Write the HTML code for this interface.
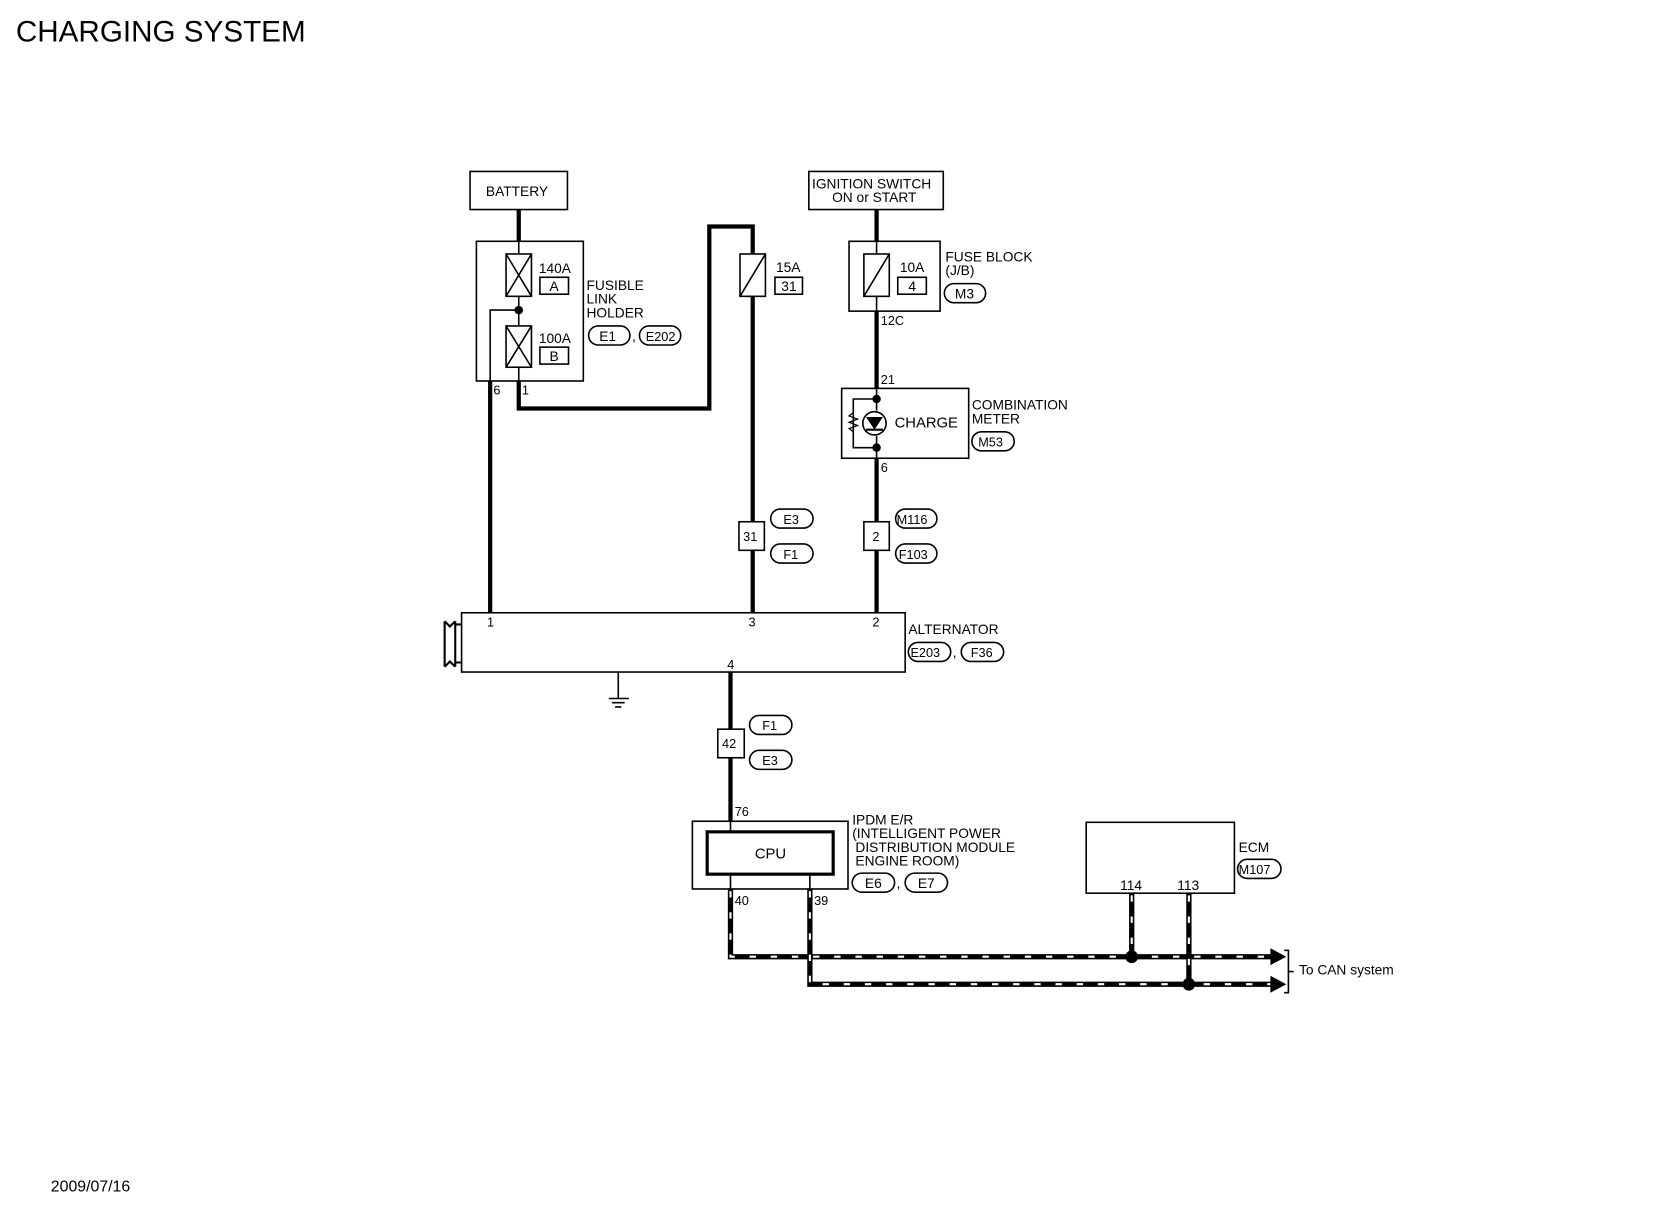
<!DOCTYPE html>
<html><head><meta charset="utf-8"><style>
html,body{margin:0;padding:0;background:#fff;}
svg{display:block}
text{font-family:"Liberation Sans",sans-serif;fill:#000}
</style></head><body>
<svg width="1660" height="1216" viewBox="0 0 1568 1149" preserveAspectRatio="none" xmlns="http://www.w3.org/2000/svg">
<rect width="1568" height="1149" fill="#fff"/>
<text x="15" y="39" font-size="28">CHARGING SYSTEM</text>
<text x="48" y="1126" font-size="15">2009/07/16</text>

<g fill="none" stroke="#000" stroke-width="1.5">
<rect x="444" y="162" width="92" height="36"/>
<rect x="450" y="228" width="101" height="132"/>
<rect x="478" y="240" width="24" height="40"/><path d="M478 240L502 280M502 240L478 280"/>
<rect x="478" y="308" width="24" height="39"/><path d="M478 308L502 347M502 308L478 347"/>
<path d="M490 228V240M490 280V308M490 347V360M490 293H463V360"/>
<rect x="510" y="262" width="27" height="16"/>
<rect x="510" y="328" width="27" height="16"/>
<rect x="699" y="240" width="24" height="40"/><path d="M699 280L723 240"/>
<rect x="732" y="262" width="26" height="16"/>
<rect x="764" y="162" width="127" height="36"/>
<rect x="802" y="228" width="86" height="66"/>
<rect x="816" y="240" width="24" height="40"/><path d="M816 280L840 240M828 228V240M828 280V294"/>
<rect x="848" y="262" width="27" height="16"/>
<rect x="795" y="367" width="120" height="66"/>
<path d="M828 367V388M828 412V433M828 377H806V423H828"/>
<path d="M806 390l-4 3 8 3-8 3 8 3-8 3 4 3" stroke-width="1.2"/>
<circle cx="826" cy="400" r="11"/>
<rect x="698" y="493" width="24" height="27" fill="#fff"/>
<rect x="816" y="493" width="24" height="27" fill="#fff"/>
<rect x="436" y="579" width="419" height="56"/>
<path d="M436 590H430V626H436M430 587V630M420 587V630M420 587L425 592L430 587M420 630L425 625L430 630" stroke-width="2"/>
<path d="M584 635V660M575 660H594M578 664H590M581 668H587"/>
<rect x="678" y="689" width="25" height="27" fill="#fff"/>
<rect x="654" y="776" width="147" height="64"/>
<rect x="668" y="786" width="119" height="40" stroke-width="3"/>
<path d="M690 776V786M690 826V840M765 826V840"/>
<rect x="1026" y="777" width="140" height="67"/>
<path d="M1213 898h4v40h-4M1217 918h5"/>
<rect x="556" y="308" width="39" height="18" rx="9"/>
<rect x="604" y="308" width="39" height="18" rx="9"/>
<rect x="892" y="268" width="39" height="18" rx="9"/>
<rect x="918" y="408" width="40" height="18" rx="9"/>
<rect x="728" y="481" width="40" height="18" rx="9"/>
<rect x="728" y="514" width="40" height="18" rx="9"/>
<rect x="846" y="481" width="39" height="18" rx="9"/>
<rect x="846" y="514" width="39" height="18" rx="9"/>
<rect x="858" y="607" width="40" height="18" rx="9"/>
<rect x="908" y="607" width="40" height="18" rx="9"/>
<rect x="708" y="676" width="40" height="18" rx="9"/>
<rect x="708" y="709" width="40" height="18" rx="9"/>
<rect x="805" y="825" width="40" height="18" rx="9"/>
<rect x="855" y="825" width="40" height="18" rx="9"/>
<rect x="1169" y="812" width="41" height="18" rx="9"/>
</g>
<path d="M818 394h16l-8 12z" fill="#000"/><path d="M818 406h16" stroke="#000" stroke-width="2"/>

<g fill="none" stroke="#000" stroke-width="4">
<path d="M490 198V228"/>
<path d="M828 198V228"/>
<path d="M463 360V579"/>
<path d="M490 360V386H670V214H711V240"/>
<path d="M711 280V493M711 520V579"/>
<path d="M828 294V367M828 433V493M828 520V579"/>
<path d="M690 635V689M690 716V776"/>
</g>
<g fill="#000"><circle cx="490" cy="293" r="4"/><circle cx="828" cy="377" r="4"/><circle cx="828" cy="423" r="4"/></g>

<g fill="none" stroke="#000" stroke-width="5">
<path d="M690 840V904H1205"/><path d="M765 840V930H1205"/>
<path d="M1069 844V904"/><path d="M1123 844V930"/>
</g>
<g fill="none" stroke="#fff" stroke-width="2" stroke-dasharray="6 14">
<path d="M690 842V904H1200"/><path d="M765 842V930H1200"/>
<path d="M1069 846V900"/><path d="M1123 846V926"/>
</g>
<g fill="#000">
<circle cx="1069" cy="904" r="6"/><circle cx="1123" cy="930" r="6"/>
<path d="M1200 896L1215 904L1200 912z"/><path d="M1200 922L1215 930L1200 938z"/>
</g>

<g font-size="13">
<text x="459" y="185">BATTERY</text>
<text x="509" y="258">140A</text><text x="519" y="275">A</text>
<text x="509" y="324">100A</text><text x="519" y="341">B</text>
<text x="554" y="274">FUSIBLE</text><text x="554" y="287">LINK</text><text x="554" y="300">HOLDER</text>
<text x="566" y="322">E1</text><text x="610" y="322" font-size="12">E202</text><text x="597" y="322">,</text>
<text x="466" y="373" font-size="12">6</text><text x="493" y="373" font-size="12">1</text>
<text x="733" y="257">15A</text><text x="738" y="275">31</text>
<text x="767" y="178">IGNITION SWITCH</text><text x="786" y="191">ON or START</text>
<text x="850" y="257">10A</text><text x="858" y="275">4</text>
<text x="893" y="247">FUSE BLOCK</text><text x="893" y="260">(J/B)</text><text x="902" y="282">M3</text>
<text x="832" y="307" font-size="12">12C</text><text x="832" y="363" font-size="12">21</text>
<text x="845" y="404" font-size="14">CHARGE</text>
<text x="918" y="387">COMBINATION</text><text x="918" y="400">METER</text><text x="924" y="422" font-size="12">M53</text>
<text x="832" y="446" font-size="12">6</text>
<text x="702" y="511" font-size="12">31</text><text x="824" y="511" font-size="12">2</text>
<text x="740" y="495" font-size="12">E3</text><text x="740" y="528" font-size="12">F1</text>
<text x="847" y="495" font-size="12">M116</text><text x="849" y="528" font-size="12">F103</text>
<text x="460" y="592" font-size="12">1</text><text x="707" y="592" font-size="12">3</text><text x="824" y="592" font-size="12">2</text><text x="687" y="632" font-size="12">4</text>
<text x="858" y="599">ALTERNATOR</text>
<text x="860" y="621" font-size="12">E203</text><text x="900" y="621">,</text><text x="917" y="621" font-size="12">F36</text>
<text x="682" y="707" font-size="12">42</text>
<text x="720" y="690" font-size="12">F1</text><text x="720" y="723" font-size="12">E3</text>
<text x="694" y="771" font-size="12">76</text>
<text x="713" y="811" font-size="14">CPU</text>
<text x="805" y="779">IPDM E/R</text><text x="805" y="792">(INTELLIGENT POWER</text>
<text x="808" y="805">DISTRIBUTION MODULE</text><text x="808" y="818">ENGINE ROOM)</text>
<text x="817" y="839">E6</text><text x="847" y="839">,</text><text x="867" y="839">E7</text>
<text x="694" y="855" font-size="12">40</text><text x="769" y="855" font-size="12">39</text>
<text x="1058" y="841">114</text><text x="1112" y="841">113</text>
<text x="1170" y="805">ECM</text><text x="1170" y="826" font-size="12">M107</text>
<text x="1227" y="921">To CAN system</text>
</g>
</svg>
</body></html>
